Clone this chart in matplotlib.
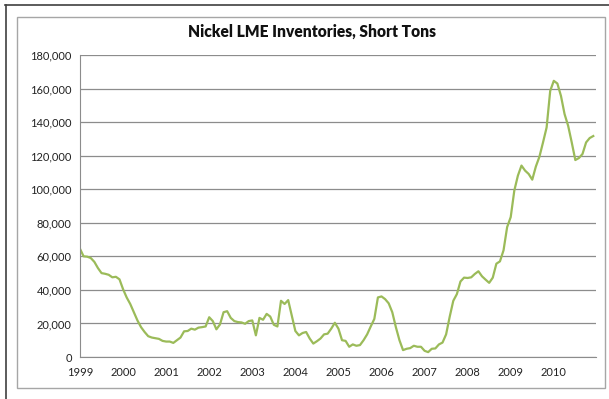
import numpy as np
import matplotlib
matplotlib.use("Agg")
import matplotlib.pyplot as plt
from matplotlib.lines import Line2D
from matplotlib.patches import Rectangle

# monthly inventories, Jan 1999 .. Dec 2010 (short tons)
inventories = [
    64500, 60000, 59800, 59000, 56700, 53000, 50000, 49600, 49000, 47500, 47800, 46300,
    40400, 35500, 31600, 26700, 21800, 17800, 14900, 12400, 11600, 11200, 10800, 9600,
    9200, 9200, 8400, 10000, 11600, 15300, 15500, 16900, 16300, 17500, 17800, 18200,
    23700, 21400, 16500, 19400, 26700, 27300, 23300, 21400, 20800, 20600, 19800, 21400,
    21800, 12900, 23300, 22200, 25700, 24100, 19200, 18200, 33500, 31600, 33900, 24700,
    15500, 12900, 14300, 14900, 11000, 8000, 9400, 11000, 13500, 13900, 16900, 20400,
    16900, 10000, 9600, 6100, 7500, 6700, 7100, 10000, 13500, 18200, 22700, 35500,
    36100, 34500, 32000, 26700, 17800, 10000, 4100, 4900, 5300, 6700, 6100, 6100,
    3700, 2900, 4900, 5100, 7500, 8600, 13500, 24000, 33500, 37500, 45000, 47300,
    47100, 47500, 49500, 51100, 48100, 46100, 44200, 47300, 55600, 57000, 63600, 77400,
    83400, 99200, 108100, 114100, 111100, 109100, 105700, 113500, 119400, 127900, 136800, 158600,
    164600, 163000, 155600, 144800, 137800, 127900, 117400, 118600, 121000, 127900, 130500, 131700,
]
years = list(range(1999, 2011))
yticks = list(range(0, 180001, 20000))

t = 1999 + np.arange(len(inventories)) / 12.0

plt.rcParams['font.family'] = ['Lato', 'DejaVu Sans']

fig = plt.figure(figsize=(6.09, 3.99), dpi=100)
W, H = 609.0, 399.0

# outer frame (dark top/left edges) and inner chart area box
fig.add_artist(Line2D([5 / W, 1], [1 - 5 / H, 1 - 5 / H], color='#404040', lw=1.2))
fig.add_artist(Line2D([6 / W, 6 / W], [0, 1 - 5 / H], color='#404040', lw=1.2))
fig.add_artist(Rectangle((17 / W, 1 - 388 / H), (605 - 17) / W, (388 - 17) / H,
                         fill=False, edgecolor='#a6a6a6', lw=1.0))

ax = fig.add_axes([80 / W, 1 - 357 / H, (596 - 80) / W, (357 - 55) / H])
ax.plot(t, inventories, color='#9bbb59', lw=1.6)

ax.set_xlim(1999, 2010.98)
ax.set_ylim(0, 180000)
ax.set_yticks(yticks)
ax.set_yticklabels(['{:,}'.format(v) for v in yticks])
ax.set_xticks(years)
ax.set_xticklabels([str(y) for y in years])
ax.tick_params(length=0, labelsize=8, colors='#222222', pad=6)
ax.tick_params(axis='x', pad=7)

ax.grid(axis='y', color='#8c8c8c', lw=0.9)
ax.set_axisbelow(True)
for side in ['top', 'right']:
    ax.spines[side].set_visible(False)
for side in ['left', 'bottom']:
    ax.spines[side].set_color('#8c8c8c')

fig.text(312 / W, 1 - 32 / H, 'Nickel LME Inventories, Short Tons', ha='center', va='center',
         fontsize=11.2, fontweight='heavy', color='#111111')

fig.savefig('out.png', dpi=100)
